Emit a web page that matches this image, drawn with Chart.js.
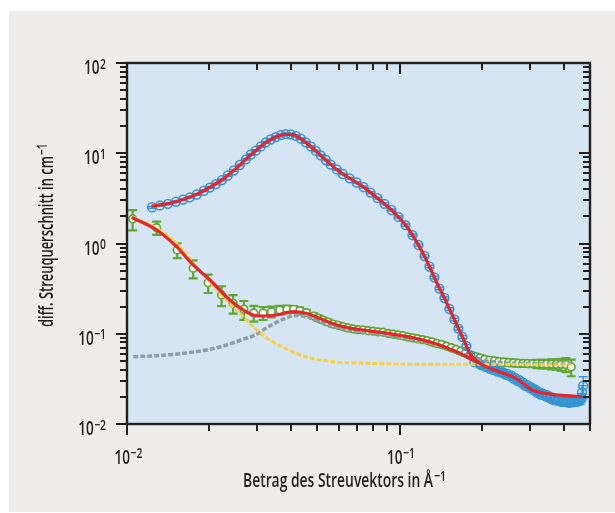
<!DOCTYPE html>
<html lang="de">
<head>
  <meta charset="UTF-8">
  <title>Streuquerschnitt</title>
  <script src="https://cdn.jsdelivr.net/npm/chart.js"></script>
  <style>
    html, body { margin: 0; padding: 0; background: #fff; }
    #wrap { width: 615px; height: 513px; }
  </style>
</head>
<body>
<div id="wrap"><canvas id="chart" width="615" height="513"></canvas></div>
<script>
// Probe 1 (blue): q in 1/Angstrom, intensity in 1/cm, error
const blueQ = [0.01235, 0.01321, 0.01413, 0.01512, 0.01604, 0.01701, 0.01804, 0.01914, 0.02014, 0.02119,
  0.02229, 0.02344, 0.02466, 0.02594, 0.02729, 0.02846, 0.02969, 0.03097, 0.0323, 0.0337,
  0.03515, 0.03667, 0.03825, 0.0399, 0.04162, 0.04341, 0.04528, 0.04724, 0.04927, 0.0514,
  0.05361, 0.05592, 0.05881, 0.06186, 0.06561, 0.06959, 0.07381, 0.07829, 0.08304, 0.08807,
  0.09348, 0.09916, 0.10519, 0.11157, 0.11736, 0.12345, 0.12877, 0.13433, 0.14013, 0.14617,
  0.15248, 0.15905, 0.16451, 0.17015, 0.17599, 0.18202, 0.18827,
  0.1931, 0.1965, 0.1997, 0.2031, 0.2065, 0.21, 0.2137, 0.2173, 0.221, 0.2248,
  0.2286, 0.2325, 0.2364, 0.2404, 0.2445, 0.2487, 0.2529, 0.2572, 0.2616, 0.2661,
  0.2706, 0.2752, 0.2799, 0.2846, 0.2894, 0.2944, 0.2994, 0.3045, 0.3097, 0.3149,
  0.3203, 0.3257, 0.3312, 0.3369, 0.3426, 0.3485, 0.3544, 0.3604, 0.3665, 0.3728,
  0.3791, 0.3856, 0.3921, 0.3988, 0.4056, 0.4125, 0.4195, 0.4266, 0.4339, 0.4412,
  0.4487, 0.4545, 0.4603, 0.465, 0.468, 0.472];
const blueI = [2.52, 2.64, 2.75, 2.9, 3.07, 3.25, 3.49, 3.84, 4.17, 4.56,
  5.05, 5.67, 6.44, 7.41, 8.57, 9.69, 10.7, 11.9, 13.2, 14.2,
  15.1, 15.9, 16.3, 16.2, 15.6, 14.5, 13.2, 11.9, 10.6, 9.49,
  8.42, 7.5, 6.61, 5.89, 5.28, 4.74, 4.21, 3.67, 3.18, 2.75,
  2.35, 1.97, 1.6, 1.24, 0.963, 0.727, 0.556, 0.42, 0.317, 0.249,
  0.188, 0.144, 0.114, 0.092, 0.0731, 0.0581, 0.0486,
  0.0492, 0.0462, 0.0448, 0.0452, 0.0431, 0.0436, 0.041, 0.0419, 0.0398, 0.0405,
  0.038, 0.0389, 0.037, 0.0374, 0.0352, 0.036, 0.0341, 0.0344, 0.0318, 0.0322,
  0.0301, 0.0306, 0.0286, 0.0287, 0.0264, 0.0269, 0.0251, 0.0255, 0.0238, 0.0241,
  0.0221, 0.0225, 0.021, 0.0217, 0.0204, 0.0209, 0.0195, 0.0199, 0.0185, 0.0191,
  0.018, 0.0187, 0.0176, 0.0184, 0.0176, 0.0182, 0.0171, 0.0182, 0.0175, 0.0184,
  0.0176, 0.0186, 0.0183, 0.0196, 0.0226, 0.0264];
const blueErr = [0.06, 0.06, 0.06, 0.06, 0.07, 0.07, 0.07, 0.08, 0.09, 0.1,
  0.11, 0.12, 0.14, 0.16, 0.18, 0.2, 0.22, 0.25, 0.28, 0.3,
  0.32, 0.34, 0.35, 0.35, 0.33, 0.31, 0.28, 0.25, 0.22, 0.2,
  0.18, 0.16, 0.14, 0.13, 0.12, 0.11, 0.1, 0.09, 0.08, 0.07,
  0.06, 0.05, 0.045, 0.035, 0.028, 0.022, 0.017, 0.013, 0.01, 0.008,
  0.0065, 0.005, 0.004, 0.0035, 0.003, 0.0025, 0.002,
  0.002, 0.002, 0.002, 0.002, 0.002, 0.002, 0.002, 0.002, 0.002, 0.002,
  0.002, 0.002, 0.002, 0.002, 0.002, 0.002, 0.002, 0.002, 0.0015, 0.0015,
  0.0015, 0.0015, 0.0015, 0.0015, 0.0015, 0.0015, 0.0015, 0.0015, 0.0015, 0.0015,
  0.0015, 0.0015, 0.0015, 0.0015, 0.0015, 0.0015, 0.0015, 0.0015, 0.0015, 0.0015,
  0.0015, 0.0015, 0.0015, 0.0015, 0.0015, 0.0015, 0.0015, 0.0015, 0.0015, 0.0015,
  0.0015, 0.0015, 0.0018, 0.002, 0.004, 0.007];

// Fit through probe 1
const blueFitQ = [0.01231, 0.01413, 0.01604, 0.01804, 0.02014, 0.02229, 0.02466, 0.02729, 0.02969, 0.0323,
  0.03515, 0.03825, 0.0399, 0.04162, 0.04528, 0.04927, 0.05361, 0.05881, 0.06561, 0.07381,
  0.08304, 0.09348, 0.09916, 0.10519, 0.11157, 0.11736, 0.12345, 0.12877, 0.13433, 0.14013,
  0.14617, 0.15248, 0.15905, 0.16451, 0.17015, 0.17599, 0.18202, 0.1963, 0.2324, 0.2676,
  0.307, 0.3543, 0.408, 0.468];
const blueFitI = [2.6, 2.77, 3.08, 3.52, 4.2, 5.07, 6.45, 8.55, 10.7, 13.1,
  15.1, 16.2, 16.15, 15.6, 13.2, 10.6, 8.45, 6.62, 5.28, 4.21,
  3.17, 2.35, 1.96, 1.6, 1.24, 0.96, 0.725, 0.556, 0.42, 0.318,
  0.249, 0.188, 0.144, 0.1144, 0.092, 0.0735, 0.059, 0.0474, 0.038, 0.0321,
  0.0238, 0.0215, 0.0206, 0.0201];

// Probe 2 (green)
const greenQ = [0.01049, 0.01285, 0.01528, 0.01749, 0.01985, 0.02223, 0.02451, 0.02683, 0.02919, 0.03157,
  0.03388, 0.03634, 0.03866, 0.0409, 0.04302, 0.04552,
  0.0484, 0.0503, 0.0522, 0.0545, 0.0569, 0.0594, 0.062, 0.0647, 0.0675, 0.0704,
  0.0735, 0.0767, 0.0799, 0.0834, 0.087, 0.0908, 0.0947, 0.0988, 0.103, 0.1074,
  0.1119, 0.1165, 0.1213, 0.1263, 0.1315, 0.137, 0.1427, 0.1486, 0.1547, 0.1611,
  0.1677, 0.1746, 0.1818, 0.1893, 0.1971, 0.2052, 0.2137, 0.2225, 0.2317, 0.2412,
  0.2512, 0.2615, 0.2723, 0.2835, 0.2952, 0.3074, 0.3201, 0.3333, 0.347, 0.3613,
  0.3762, 0.3917, 0.4079, 0.4266];
const greenI = [1.868, 1.496, 0.847, 0.531, 0.368, 0.269, 0.2175, 0.1866, 0.17, 0.17,
  0.1755, 0.1833, 0.1866, 0.1866, 0.18, 0.171,
  0.157, 0.149, 0.142, 0.135, 0.128, 0.124, 0.12, 0.116, 0.113, 0.111,
  0.11, 0.108, 0.107, 0.105, 0.104, 0.101, 0.099, 0.097, 0.095, 0.092,
  0.09, 0.088, 0.086, 0.084, 0.081, 0.078, 0.076, 0.073, 0.07, 0.067,
  0.064, 0.061, 0.058, 0.056, 0.054, 0.052, 0.0508, 0.05, 0.0492, 0.0486,
  0.048, 0.0476, 0.0472, 0.047, 0.0468, 0.0467, 0.0465, 0.0464, 0.0463, 0.0462,
  0.046, 0.0458, 0.0456, 0.0428];
const greenErr = [0.47, 0.25, 0.16, 0.12, 0.085, 0.067, 0.05, 0.044, 0.034, 0.028,
  0.024, 0.02, 0.018, 0.016, 0.015, 0.013,
  0.011, 0.01, 0.009, 0.009, 0.008, 0.008, 0.007, 0.007, 0.007, 0.007,
  0.006, 0.006, 0.006, 0.006, 0.006, 0.006, 0.006, 0.006, 0.006, 0.006,
  0.005, 0.005, 0.005, 0.005, 0.005, 0.005, 0.005, 0.004, 0.004, 0.004,
  0.004, 0.004, 0.004, 0.004, 0.004, 0.004, 0.004, 0.004, 0.004, 0.004,
  0.004, 0.004, 0.004, 0.004, 0.004, 0.004, 0.005, 0.005, 0.005, 0.006,
  0.006, 0.007, 0.008, 0.009];

// Fit through probe 2 and its two components
const greenFitQ = [0.0104, 0.01285, 0.0152, 0.01749, 0.02014, 0.02384, 0.02667, 0.02902, 0.03157, 0.03534,
  0.04066, 0.0455, 0.0509, 0.057, 0.065, 0.075, 0.087, 0.1, 0.12, 0.14, 0.16, 0.1963];
const greenFitI = [1.951, 1.411, 0.922, 0.578, 0.394, 0.2366, 0.1834, 0.1614, 0.1573, 0.1614,
  0.1755, 0.1685, 0.1483, 0.129, 0.116, 0.109, 0.103, 0.096, 0.086, 0.0751, 0.064, 0.0474];

const grayQ = [0.01054, 0.0132, 0.01789, 0.02191, 0.02593, 0.02944, 0.0334, 0.0379, 0.0418, 0.0468,
  0.0539, 0.0656, 0.0866, 0.1, 0.12, 0.14, 0.16, 0.18, 0.2, 0.25, 0.3, 0.35, 0.4266];
const grayI = [0.0557, 0.0574, 0.0633, 0.0713, 0.0842, 0.0969, 0.1218, 0.1475, 0.1593, 0.1514,
  0.1282, 0.1101, 0.0984, 0.092, 0.084, 0.0745, 0.064, 0.056, 0.051, 0.0475, 0.0466, 0.0463, 0.0462];

const yellowQ = [0.0104, 0.01285, 0.01541, 0.01749, 0.02014, 0.02253, 0.02593, 0.02902, 0.0334, 0.0385,
  0.0455, 0.057, 0.0755, 0.1184, 0.196, 0.4266];
const yellowI = [1.98, 1.47, 0.962, 0.603, 0.3774, 0.2574, 0.1685, 0.1197, 0.0852, 0.0678,
  0.0553, 0.049, 0.0471, 0.0459, 0.0458, 0.0453];

// axis ticks
const xMajor = [0.01, 0.1];
const xMinor = [0.02, 0.03, 0.04, 0.05, 0.06, 0.07, 0.08, 0.09, 0.2, 0.3, 0.4, 0.5];
const xLabels = [['10', '\u22122'], ['10', '\u22121']];
const yMajor = [0.01, 0.1, 1, 10, 100];
const yLabels = [['10', '\u22122'], ['10', '\u22121'], ['10', '0'], ['10', '1'], ['10', '2']];
const yMinor = [];
[0.01, 0.1, 1, 10].forEach(d => { for (let m = 2; m <= 9; m++) yMinor.push(+(d * m).toPrecision(2)); });

const xTitle = ['Betrag des Streuvektors in \u00C5', '\u22121'];
const yTitle = ['diff. Streuquerschnitt in cm', '\u22121'];

const RED = '#e4262a', BLUE = '#3594d3', GREEN = '#5ea832', YELLOW = '#f8d040', GRAY = '#8d9ea9';
const INK = '#221f20';
const FONT = '"Open Sans", "Noto Sans", sans-serif';
const WEIGHT = '600';

function pts(q, v) { return q.map((x, i) => ({ x: x, y: v[i] })); }

// background: white margin, grey panel, light blue plot area
const background = {
  id: 'background',
  beforeDraw(chart) {
    const { ctx, chartArea: a } = chart;
    ctx.save();
    ctx.fillStyle = '#ffffff';
    ctx.fillRect(0, 0, chart.width, chart.height);
    ctx.fillStyle = '#eeedeb';
    ctx.fillRect(9, 11, chart.width - 9, chart.height - 12);
    ctx.fillStyle = '#d5e5f3';
    ctx.fillRect(a.left, a.top, a.right - a.left, a.bottom - a.top);
    ctx.restore();
  }
};

// vertical error bars with caps, drawn below the markers of the same dataset
const errorBars = {
  id: 'errorBars',
  beforeDatasetDraw(chart, args) {
    const d = chart.data.datasets[args.index];
    if (!d.errors) return;
    const { ctx, chartArea: a, scales: { x, y } } = chart;
    ctx.save();
    ctx.beginPath();
    ctx.rect(a.left, a.top, a.right - a.left, a.bottom - a.top);
    ctx.clip();
    ctx.strokeStyle = d.errColor;
    ctx.lineWidth = d.errWidth;
    d.data.forEach((p, i) => {
      const e = d.errors[i];
      const px = x.getPixelForValue(p.x);
      const top = y.getPixelForValue(p.y + e);
      const bot = y.getPixelForValue(Math.max(p.y - e, 0.001));
      ctx.beginPath();
      ctx.moveTo(px, top); ctx.lineTo(px, bot);
      ctx.moveTo(px - d.capHalf, top); ctx.lineTo(px + d.capHalf, top);
      ctx.moveTo(px - d.capHalf, bot); ctx.lineTo(px + d.capHalf, bot);
      ctx.stroke();
    });
    ctx.restore();
  }
};

// condensed text: normal font squeezed horizontally
function squeezed(ctx, txt, x, y, size, sx) {
  ctx.save();
  ctx.font = WEIGHT + ' ' + size + 'px ' + FONT;
  ctx.translate(x, y);
  ctx.scale(sx, 1);
  ctx.fillText(txt, 0, 0);
  const w = ctx.measureText(txt).width * sx;
  ctx.restore();
  return w;
}
function textWidth(ctx, txt, size, sx) {
  ctx.save();
  ctx.font = WEIGHT + ' ' + size + 'px ' + FONT;
  const w = ctx.measureText(txt).width * sx;
  ctx.restore();
  return w;
}

// frame, ticks (out on left/bottom, in on top/right), labels and titles
const frame = {
  id: 'frame',
  afterDraw(chart) {
    const { ctx, chartArea: a, scales: { x, y } } = chart;
    ctx.save();
    ctx.strokeStyle = INK;
    ctx.fillStyle = INK;
    ctx.lineWidth = 2;
    const MAJ = 11, MIN = 7;
    function xt(v, len) {
      const px = Math.round(x.getPixelForValue(v));
      ctx.beginPath();
      ctx.moveTo(px, a.bottom); ctx.lineTo(px, a.bottom + len);
      ctx.moveTo(px, a.top); ctx.lineTo(px, a.top + len);
      ctx.stroke();
    }
    function yt(v, len) {
      const py = Math.round(y.getPixelForValue(v));
      ctx.beginPath();
      ctx.moveTo(a.left, py); ctx.lineTo(a.left - len, py);
      ctx.moveTo(a.right, py); ctx.lineTo(a.right - len, py);
      ctx.stroke();
    }
    xMinor.forEach(v => xt(v, MIN));
    xMajor.forEach(v => xt(v, MAJ));
    yMinor.forEach(v => yt(v, MIN));
    yMajor.forEach(v => yt(v, MAJ));
    ctx.lineWidth = 2.4;
    ctx.strokeRect(a.left, a.top, a.right - a.left, a.bottom - a.top);

    // tick labels
    const base = textWidth(ctx, '10', 19, 1);
    const sx = 15.5 / base;
    ctx.textBaseline = 'alphabetic';
    ctx.textAlign = 'left';
    xMajor.forEach((v, i) => {
      const px = x.getPixelForValue(v);
      const bx = px - 12.5;
      const w = squeezed(ctx, xLabels[i][0], bx, a.bottom + 39.5, 19, sx);
      squeezed(ctx, xLabels[i][1], bx + w + 0.5, a.bottom + 33.5, 14.5, sx);
    });
    yMajor.forEach((v, i) => {
      const py = y.getPixelForValue(v);
      const w1 = textWidth(ctx, yLabels[i][0], 19, sx);
      const w2 = textWidth(ctx, yLabels[i][1], 14.5, sx);
      const bx = a.left - 21 - w1 - w2 - 0.5;
      squeezed(ctx, yLabels[i][0], bx, py + 11, 19, sx);
      squeezed(ctx, yLabels[i][1], bx + w1 + 0.5, py + 5.5, 14.5, sx);
    });

    // x title
    const sxX = 190 / textWidth(ctx, xTitle[0], 19, 1);
    const wx = squeezed(ctx, xTitle[0], 243, 486.5, 19, sxX);
    squeezed(ctx, xTitle[1], 243 + wx + 1, 481, 14.5, sxX);

    // y title, rotated
    const sxY = 171 / textWidth(ctx, yTitle[0], 19, 1);
    ctx.save();
    ctx.translate(52.5, 327);
    ctx.rotate(-Math.PI / 2);
    const wy = squeezed(ctx, yTitle[0], 0, 0, 19, sxY);
    squeezed(ctx, yTitle[1], wy + 1, -5.5, 14.5, sxY);
    ctx.restore();
    ctx.restore();
  }
};

const chart = new Chart(document.getElementById('chart'), {
  type: 'scatter',
  data: {
    datasets: [
      {
        label: 'Fit Probe 1', data: pts(blueFitQ, blueFitI), showLine: true,
        borderColor: RED, borderWidth: 3.2, pointRadius: 0, cubicInterpolationMode: 'monotone', order: 0
      },
      {
        label: 'Fit Probe 2', data: pts(greenFitQ, greenFitI), showLine: true,
        borderColor: RED, borderWidth: 3.2, pointRadius: 0, cubicInterpolationMode: 'monotone', order: 0
      },
      {
        label: 'Komponente 1', data: pts(yellowQ, yellowI), showLine: true,
        borderColor: YELLOW, borderWidth: 3, borderDash: [5, 2], pointRadius: 0,
        cubicInterpolationMode: 'monotone', order: 1
      },
      {
        label: 'Komponente 2', data: pts(grayQ, grayI), showLine: true,
        borderColor: GRAY, borderWidth: 3.5, borderDash: [5, 2], pointRadius: 0,
        cubicInterpolationMode: 'monotone', order: 2
      },
      {
        label: 'Probe 1', data: pts(blueQ, blueI), showLine: false,
        pointRadius: 4.4, pointBorderWidth: 1.5, pointBorderColor: BLUE,
        pointBackgroundColor: 'rgba(0,0,0,0)',
        errors: blueErr, errColor: BLUE, errWidth: 1.4, capHalf: 4.5, order: 3
      },
      {
        label: 'Probe 2', data: pts(greenQ, greenI), showLine: false,
        pointRadius: 3.8, pointBorderWidth: 1.7, pointBorderColor: GREEN,
        pointBackgroundColor: '#ffffff',
        errors: greenErr, errColor: GREEN, errWidth: 2.2, capHalf: 4.5, order: 4
      }
    ]
  },
  options: {
    responsive: false,
    animation: false,
    events: [],
    layout: { padding: { left: 127, top: 63, right: 25, bottom: 89 } },
    plugins: { legend: { display: false }, tooltip: { enabled: false } },
    scales: {
      x: { type: 'logarithmic', min: 0.01, max: 0.5, display: false },
      y: { type: 'logarithmic', min: 0.01, max: 100, display: false }
    }
  },
  plugins: [background, errorBars, frame]
});
</script>
</body>
</html>
